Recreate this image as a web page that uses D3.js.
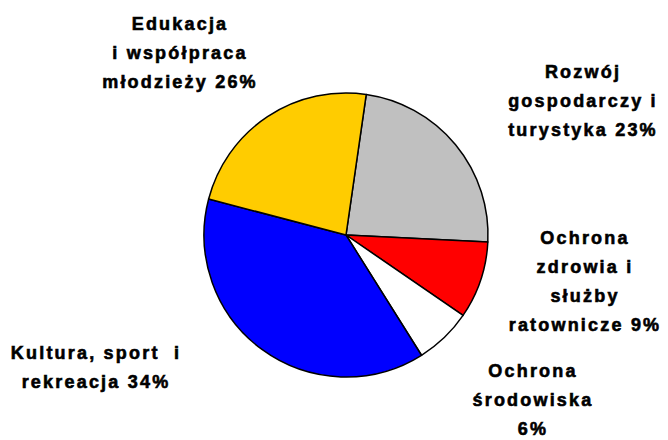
<!DOCTYPE html>
<html>
<head>
<meta charset="utf-8">
<script src="https://cdn.jsdelivr.net/npm/d3@7"></script>
<style>
  html, body { margin: 0; padding: 0; background: #fff; }
  svg { display: block; }
  .lbl { font-family: Arial, "Liberation Sans", sans-serif; font-weight: 700; font-size: 18px; letter-spacing: 2.2px; white-space: pre; fill: #000; stroke: #000; stroke-width: 0.6px; }
</style>
</head>
<body>
<div id="chart"></div>
<script>
// slice order, clockwise from the top
const categories = ['Rozwój gospodarczy i turystyka', 'Ochrona zdrowia i służby ratownicze', 'Ochrona środowiska', 'Kultura, sport i rekreacja', 'Edukacja i współpraca młodzieży'];
const values = [23.5, 8.8, 6.5, 38.0, 23.2];
const colors = ['#c0c0c0', '#ff0000', '#ffffff', '#0000ff', '#ffcc00'];
const labelLines = [
    ['Rozwój', 'gospodarczy i', 'turystyka 23%'],
    ['Ochrona', 'zdrowia i', 'służby', 'ratownicze 9%'],
    ['Ochrona', 'środowiska', '6%'],
    ['Kultura, sport  i', 'rekreacja 34%'],
    ['Edukacja', 'i współpraca', 'młodzieży 26%']
];

const width = 668, height = 440;
const cx = 346, cy = 235, radius = 142;
// where each label block sits (centre x, first baseline)
const labelPos = [[583, 78], [585, 244], [533, 377], [96, 359], [180, 30]];
const lineH = 29;

const svg = d3.select('#chart').append('svg')
    .attr('width', width)
    .attr('height', height);

const pie = d3.pie()
    .sort(null)
    .value(d => d)
    .startAngle(8.2 * Math.PI / 180)
    .endAngle(8.2 * Math.PI / 180 + 2 * Math.PI);

const arc = d3.arc().innerRadius(0).outerRadius(radius);

const g = svg.append('g').attr('transform', `translate(${cx},${cy})`);

g.selectAll('path')
    .data(pie(values))
    .enter()
    .append('path')
    .attr('d', arc)
    .attr('fill', (d, i) => colors[i])
    .attr('stroke', '#000')
    .attr('stroke-width', 1.5)
    .attr('stroke-linejoin', 'round');

const labels = svg.selectAll('text.lbl')
    .data(labelLines)
    .enter()
    .append('text')
    .attr('class', 'lbl')
    .attr('text-anchor', 'middle');

labels.each(function(lines, i) {
    const t = d3.select(this);
    lines.forEach((line, j) => {
        t.append('tspan')
            .attr('x', labelPos[i][0])
            .attr('y', labelPos[i][1] + j * lineH)
            .text(line);
    });
});
</script>
</body>
</html>
